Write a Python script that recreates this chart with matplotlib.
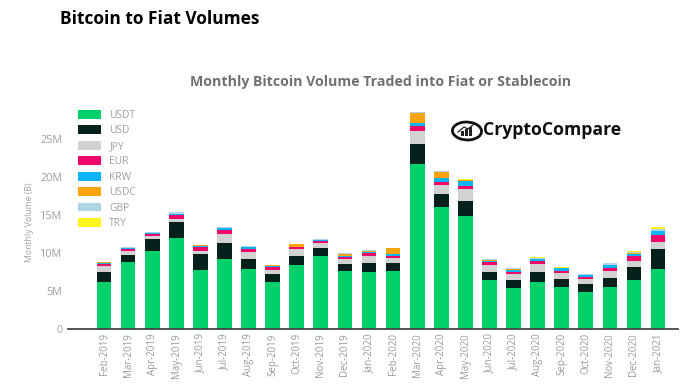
import matplotlib
matplotlib.use("Agg")
import matplotlib.pyplot as plt
from matplotlib.patches import Ellipse, Rectangle
from matplotlib.lines import Line2D
import numpy as np

months = ["Feb-2019","Mar-2019","Apr-2019","May-2019","Jun-2019","Jul-2019","Aug-2019","Sep-2019","Oct-2019","Nov-2019","Dec-2019",
          "Jan-2020","Feb-2020","Mar-2020","Apr-2020","May-2020","Jun-2020","Jul-2020","Aug-2020","Sep-2020","Oct-2020","Nov-2020","Dec-2020","Jan-2021"]
usdt = [6.2,8.86,10.2,12.0,7.76,9.2,7.85,6.2,8.4,9.6,7.68,7.54,7.63,21.67,16.0,14.9,6.45,5.4,6.2,5.57,4.87,5.5,6.5,7.85]
usd  = [1.25,0.92,1.67,2.06,2.1,2.15,1.3,1.05,1.2,1.0,0.88,1.18,1.0,2.63,1.8,2.0,1.1,1.05,1.3,1.05,1.1,1.27,1.67,2.68]
jpy  = [0.85,0.53,0.35,0.44,0.44,1.14,1.0,0.57,0.9,0.66,0.7,0.92,0.7,1.75,1.1,1.5,0.88,0.75,1.0,0.7,0.66,0.88,0.75,0.96]
eur  = [0.3,0.25,0.3,0.48,0.48,0.48,0.35,0.3,0.25,0.26,0.26,0.3,0.3,0.7,0.44,0.48,0.4,0.35,0.4,0.3,0.22,0.44,0.7,0.83]
krw  = [0.15,0.1,0.13,0.1,0.2,0.35,0.25,0.13,0.1,0.13,0.13,0.2,0.2,0.3,0.48,0.6,0.17,0.26,0.3,0.35,0.22,0.35,0.3,0.53]
usdc = [0.03,0.03,0.03,0.05,0.03,0.03,0.03,0.2,0.3,0.03,0.26,0.1,0.8,1.4,0.88,0.1,0.03,0.03,0.03,0.03,0.03,0.03,0.03,0.03]
gbp  = [0.03,0.1,0.1,0.2,0.08,0.07,0.1,0.03,0.03,0.2,0.03,0.15,0.03,0.08,0.03,0.07,0.12,0.17,0.15,0.07,0.12,0.15,0.2,0.3]
try_ = [0.0,0.0,0.0,0.0,0.0,0.0,0.0,0.0,0.0,0.0,0.0,0.0,0.0,0.0,0.0,0.08,0.05,0.02,0.05,0.05,0.03,0.05,0.05,0.2]
names = ["USDT","USD","JPY","EUR","KRW","USDC","GBP","TRY"]
series = [usdt,usd,jpy,eur,krw,usdc,gbp,try_]
colors = ["#00D06A","#06211C","#D2D2D2","#F0076A","#0DB4F5","#F9A30F","#ADD5E6","#FFF51E"]
yticks = [0,5,10,15,20,25]
yticklabels = ["0","5M","10M","15M","20M","25M"]

plt.rcParams["font.family"] = ["Open Sans","DejaVu Sans"]
W,H = 700,385
fig = plt.figure(figsize=(7,3.85),dpi=100)
L,R,B,T = 68,678,329,100
ax = fig.add_axes([L/W,1-B/H,(R-L)/W,(B-T)/H])
step = 24.09
ax.set_xlim((L-104)/step,(R-104)/step)
ax.set_ylim(0,(B-T)/7.6)
x = np.arange(len(months))
bottom = np.zeros(len(months))
for n,s,c in zip(names,series,colors):
    ax.bar(x,s,width=14.7/step,bottom=bottom,color=c,label=n,linewidth=0)
    bottom += np.array(s)
for s in ["top","right","left"]:
    ax.spines[s].set_visible(False)
ax.spines["bottom"].set_color("#444444")
ax.spines["bottom"].set_linewidth(1.3)
ax.set_xticks(x)
ax.set_xticklabels(months,rotation=90,fontsize=7.0,color="#9a9a9a")
ax.set_yticks(yticks)
ax.set_yticklabels(yticklabels,fontsize=7.8,color="#a0a0a0")
ax.tick_params(length=0,axis="both")
ax.tick_params(axis="x",pad=3)
ax.tick_params(axis="y",pad=4)
fig.text(30/W,1-222/H,"Monthly Volume (B)",rotation=90,fontsize=6.2,color="#a0a0a0",ha="center",va="center")
leg = ax.legend(loc="upper left",frameon=False,fontsize=7.4,
          labelcolor="#a0a0a0",handlelength=2.2,handleheight=0.95,labelspacing=0.43,handletextpad=0.85,
          borderpad=0,borderaxespad=0)
leg.set_bbox_to_anchor((78/W,1-110/H),transform=fig.transFigure)

fig.text(60/W,1-19/H,"Bitcoin to Fiat Volumes",fontsize=12.5,fontweight="bold",color="#000000",ha="left",va="center")
fig.text(381/W,1-82/H,"Monthly Bitcoin Volume Traded into Fiat or Stablecoin",fontsize=10.2,fontweight="bold",color="#707070",ha="center",va="center")

# logo
fig.add_artist(Ellipse((467/W,1-131/H),width=29/W,height=18/H,angle=10,fill=False,edgecolor="#111111",linewidth=2,transform=fig.transFigure))
for lx,lh in [(461,5),(465,7),(469,9)]:
    fig.add_artist(Rectangle((lx/W,1-136/H),2.6/W,lh/H,facecolor="#222222",edgecolor="none",transform=fig.transFigure))
fig.add_artist(Line2D([458/W,464/W,468/W,474/W],[1-132/H,1-127/H,1-129/H,1-124/H],color="#222222",linewidth=0.9,transform=fig.transFigure))
fig.text(483/W,1-130/H,"CryptoCompare",fontsize=12.7,fontweight="bold",color="#111111",ha="left",va="center")
fig.savefig("out.png",dpi=100)
